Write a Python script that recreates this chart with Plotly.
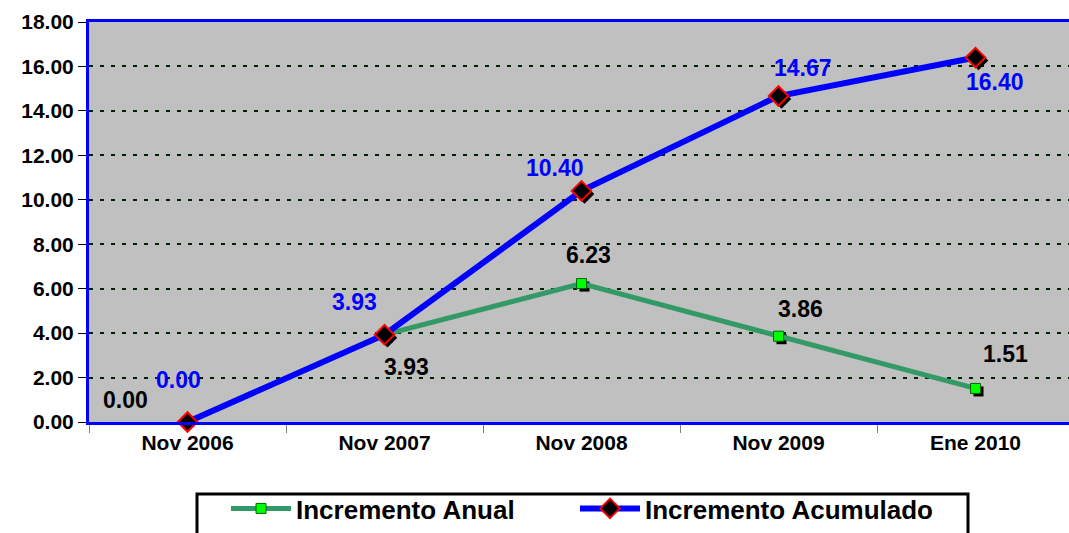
import plotly.graph_objects as go

categorias = ["Nov 2006", "Nov 2007", "Nov 2008", "Nov 2009", "Ene 2010"]
incremento_anual = [0.00, 3.93, 6.23, 3.86, 1.51]
incremento_acumulado = [0.00, 3.93, 10.40, 14.67, 16.40]
y_ticks = [0, 2, 4, 6, 8, 10, 12, 14, 16, 18]
y_tick_labels = ["%.2f" % v for v in y_ticks]

W, H = 1069, 533
ML, MT, MB = 89, 22, 111
plot_w, plot_h = W - ML, H - MT - MB
cat_w = 197  # ancho de cada categoria; el area de trazado sigue mas alla del borde
x_rng = [-0.5, -0.5 + plot_w / cat_w]

fig = go.Figure()

# traza invisible en los ejes principales (categorias, ticks y rejilla)
fig.add_trace(go.Scatter(x=categorias, y=incremento_acumulado, mode="markers",
                         marker=dict(size=1, color="rgba(0,0,0,0)"),
                         showlegend=False, hoverinfo="skip"))

# sombras de los marcadores (eje desplazado unos pixeles)
sh = 3
fig.add_trace(go.Scatter(x=categorias, y=incremento_anual, mode="markers", xaxis="x2", yaxis="y2",
                         marker=dict(symbol="square", size=10, color="black"), cliponaxis=False,
                         showlegend=False, hoverinfo="skip"))
fig.add_trace(go.Scatter(x=categorias, y=incremento_acumulado, mode="markers", xaxis="x2", yaxis="y2",
                         marker=dict(symbol="diamond", size=15, color="black"), cliponaxis=False,
                         showlegend=False, hoverinfo="skip"))

# series (en un eje superpuesto para quedar encima de las sombras)
fig.add_trace(go.Scatter(x=categorias, y=incremento_anual, name="Incremento Anual",
                         xaxis="x3", yaxis="y3",
                         mode="lines+markers", line=dict(color="#339966", width=5), cliponaxis=False,
                         marker=dict(symbol="square", size=10, color="#00FF00",
                                     line=dict(color="#006600", width=1)),
                         legend="legend"))
fig.add_trace(go.Scatter(x=categorias, y=incremento_acumulado, name="Incremento Acumulado",
                         xaxis="x3", yaxis="y3",
                         mode="lines+markers", line=dict(color="#0000FF", width=6), cliponaxis=False,
                         marker=dict(symbol="diamond", size=15, color="black",
                                     line=dict(color="#FF0000", width=2)),
                         legend="legend2"))

lbl_font = dict(family="Liberation Sans, Arial", size=23, weight="bold")
off_anual = [(-62, 22), (22, -32), (7, 29), (22, 27), (30, 34)]
off_acum = [(-9, 42), (-30, 33), (-27, 23), (24, 28), (19, -24)]
for i, c in enumerate(categorias):
    fig.add_annotation(x=c, y=incremento_anual[i], text="%.2f" % incremento_anual[i],
                       showarrow=False, xshift=off_anual[i][0], yshift=off_anual[i][1],
                       font=dict(lbl_font, color="black"))
    fig.add_annotation(x=c, y=incremento_acumulado[i], text="%.2f" % incremento_acumulado[i],
                       showarrow=False, xshift=off_acum[i][0], yshift=off_acum[i][1],
                       font=dict(lbl_font, color="#0000FF"))

# recuadro de la leyenda
fig.add_shape(type="rect", xref="paper", yref="paper", layer="above",
              x0=(197 - ML) / plot_w, x1=(968 - ML) / plot_w,
              y0=-(540 - MT - plot_h) / plot_h, y1=-(494 - MT - plot_h) / plot_h,
              line=dict(color="black", width=3), fillcolor="rgba(0,0,0,0)")

tick_font = dict(family="Liberation Sans, Arial", size=21, weight="bold", color="black")
leg_font = dict(family="Liberation Sans, Arial", size=26, weight="bold", color="black")
leg_y = -(H - 1 - MT - plot_h) / plot_h
fig.update_layout(
    width=W, height=H,
    margin=dict(l=ML, r=0, t=MT, b=MB),
    paper_bgcolor="white", plot_bgcolor="#C0C0C0",
    xaxis=dict(type="category", range=x_rng, tickfont=tick_font, automargin=False,
               showline=True, linecolor="#0000FF", linewidth=3, mirror=True,
               ticks="outside", tickson="boundaries", ticklen=8, tickcolor="#808080",
               showgrid=False, domain=[0, 1]),
    yaxis=dict(range=[0, 18], tickvals=y_ticks, ticktext=y_tick_labels, tickfont=tick_font,
               automargin=False, showline=True, linecolor="#0000FF", linewidth=3, mirror=False,
               ticks="outside", ticklen=8, tickcolor="black",
               showgrid=True, gridcolor="#002200", griddash="4px,7px", gridwidth=2,
               zeroline=False, domain=[0, 1]),
    xaxis2=dict(type="category", range=[x_rng[0] - sh / cat_w, x_rng[1] - sh / cat_w],
                overlaying="x", visible=False, anchor="y2"),
    yaxis2=dict(range=[sh * 18 / plot_h, 18 + sh * 18 / plot_h], overlaying="y",
                visible=False, anchor="x2"),
    xaxis3=dict(type="category", range=x_rng, overlaying="x", visible=False, anchor="y3"),
    yaxis3=dict(range=[0, 18], overlaying="y", visible=False, anchor="x3"),
    legend=dict(orientation="h", x=(226 - ML) / plot_w, xanchor="left", y=leg_y, yanchor="bottom",
                borderwidth=0, bgcolor="rgba(0,0,0,0)", font=leg_font, itemwidth=60),
    legend2=dict(orientation="h", x=(575 - ML) / plot_w, xanchor="left", y=leg_y, yanchor="bottom",
                 borderwidth=0, bgcolor="rgba(0,0,0,0)", font=leg_font, itemwidth=60),
    showlegend=True,
)

fig.write_html("out.html", config={"displayModeBar": False},
               post_script="document.body.style.margin='0';")
